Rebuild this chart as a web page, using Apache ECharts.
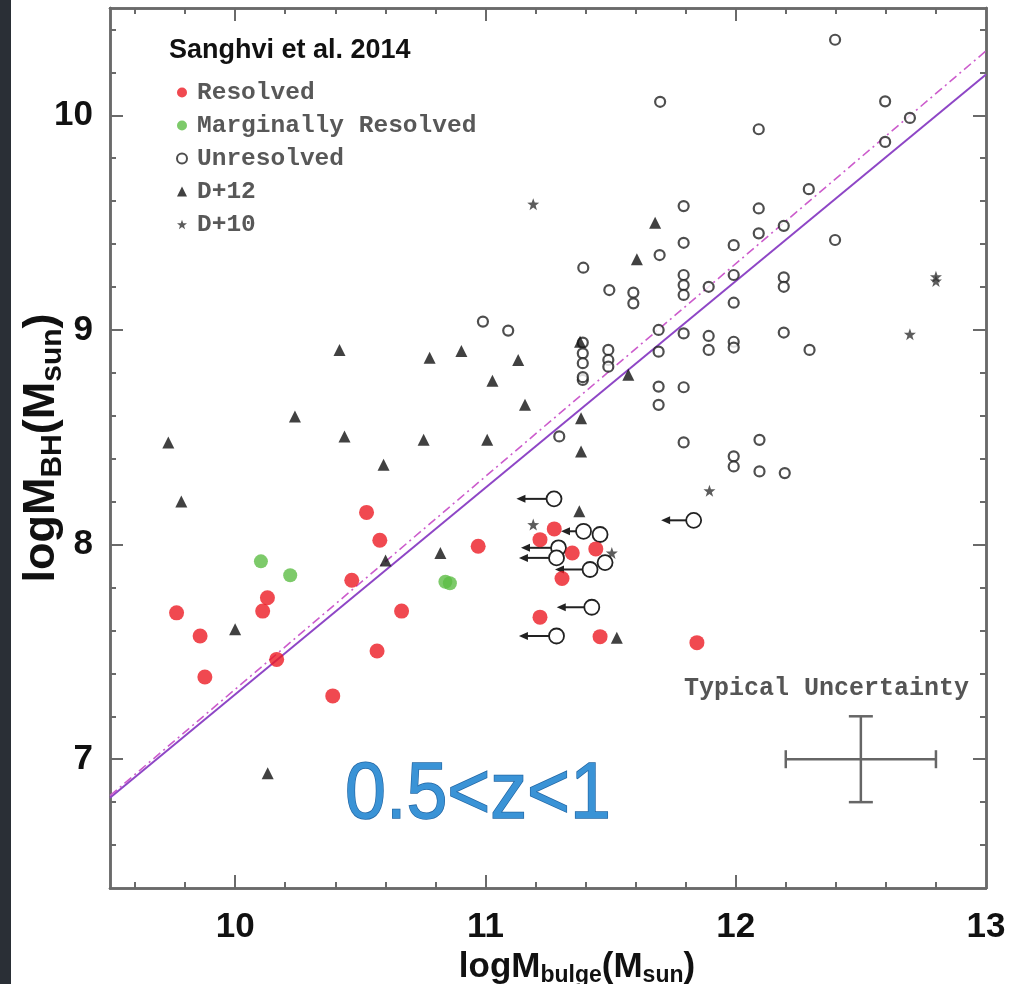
<!DOCTYPE html>
<html>
<head>
<meta charset="utf-8">
<title>Sanghvi et al. 2014</title>
<script src="https://cdn.jsdelivr.net/npm/echarts@6/dist/echarts.min.js"></script>
<style>
  html, body { margin: 0; padding: 0; background: #fff; }
  #chart { width: 1030px; height: 984px; }
</style>
</head>
<body>
<div id="chart"></div>
<script>
// values: [logMbulge, logMBH]
const resolved = [
  [10.525, 8.150], [10.578, 8.020], [10.466, 7.834], [10.129, 7.752], [10.110, 7.690],
  [9.766, 7.682], [10.665, 7.690], [9.860, 7.574], [10.166, 7.465], [10.567, 7.504],
  [9.879, 7.383], [10.390, 7.295], [10.971, 7.992], [11.275, 8.073], [11.218, 8.023],
  [11.347, 7.961], [11.441, 7.980], [11.306, 7.842], [11.218, 7.662], [11.458, 7.571],
  [11.845, 7.543]
];
const marginal = [[10.103, 7.922], [10.220, 7.857], [10.840, 7.827], [10.858, 7.820]];
const unresolved = [
  [12.397, 10.352], [12.092, 9.935], [12.597, 10.065], [12.696, 9.988], [12.597, 9.876],
  [12.292, 9.656], [12.092, 9.566], [12.192, 9.485], [12.092, 9.450], [11.992, 9.395],
  [12.397, 9.419], [11.992, 9.256], [11.892, 9.201], [12.192, 9.245], [12.192, 9.201],
  [11.992, 9.127], [11.892, 8.972], [11.892, 8.907], [11.992, 8.945], [11.992, 8.918],
  [12.192, 8.988], [12.295, 8.907], [12.095, 8.488], [11.992, 8.411], [11.992, 8.364],
  [12.095, 8.341], [12.196, 8.333], [11.792, 9.577], [11.792, 9.406], [11.696, 9.349],
  [11.391, 9.290], [11.495, 9.186], [11.591, 9.174], [11.792, 9.256], [11.792, 9.209],
  [11.698, 10.063], [11.591, 9.124], [11.792, 9.163], [10.990, 9.039], [11.091, 8.997],
  [11.389, 8.941], [11.389, 8.891], [11.389, 8.845], [11.389, 8.767], [11.389, 8.780],
  [11.491, 8.907], [11.491, 8.860], [11.491, 8.829], [11.692, 9.000], [11.792, 8.984],
  [11.692, 8.899], [11.692, 8.736], [11.692, 8.651], [11.792, 8.733], [11.792, 8.476],
  [11.295, 8.504]
];
const d12 = [
  [10.417, 8.907], [10.239, 8.597], [9.733, 8.476], [10.437, 8.504], [10.593, 8.372],
  [9.785, 8.201], [10.601, 7.926], [10.000, 7.605], [10.777, 8.871], [10.904, 8.902],
  [11.131, 8.860], [11.028, 8.763], [11.158, 8.651], [10.753, 8.488], [11.007, 8.488],
  [11.382, 8.589], [11.382, 8.434], [11.571, 8.791], [11.375, 8.155], [10.820, 7.961],
  [11.525, 7.566], [11.378, 8.945], [11.678, 9.499], [11.605, 9.329], [10.130, 6.935]
];
const d10 = [
  [11.191, 9.586], [11.895, 8.251], [12.696, 8.980], [12.800, 9.228], [12.800, 9.248],
  [11.191, 8.093], [11.505, 7.961]
];
// unresolved upper limits: [x, y, arrow length in dex]
const upperLimits = [
  [11.274, 8.213, 0.15], [11.832, 8.113, 0.13], [11.392, 8.062, 0.09], [11.292, 7.985, 0.15],
  [11.284, 7.938, 0.15], [11.418, 7.884, 0.14], [11.425, 7.708, 0.14], [11.284, 7.574, 0.15],
  [11.458, 8.047, 0], [11.478, 7.916, 0]
];
// fitted relations (end points)
const fitSolid = [[9.5, 6.82], [13.0, 10.19]];
const fitDashDot = [[9.5, 6.83], [13.0, 10.30]];
// typical uncertainty: [x, y, dx, dy]
const uncertainty = [[12.5, 7.0, 0.3, 0.2]];

// axes
const xRange = [9.5, 13];
const yRange = [6.4, 10.5];
const xLabels = [10, 11, 12, 13];
const xMajor = [10, 11, 12];
const xMinor = [9.6, 9.8, 10.2, 10.4, 10.6, 10.8, 11.2, 11.4, 11.6, 11.8, 12.2, 12.4, 12.6, 12.8];
const yLabels = [7, 8, 9, 10];
const yMajor = [7, 8, 9, 10];
const yMinor = [6.6, 6.8, 7.2, 7.4, 7.6, 7.8, 8.2, 8.4, 8.6, 8.8, 9.2, 9.4, 9.6, 9.8, 10.2, 10.4];

const frameColor = '#6a6a6a';
const starPath = 'path://M0,-10L2.4,-3.3L9.5,-3.1L3.8,1.2L5.9,8.1L0,4L-5.9,8.1L-3.8,1.2L-9.5,-3.1L-2.4,-3.3Z';

function nameStyle(size, sub, pad) {
  return {
    color: '#111', fontSize: size, fontWeight: 'bold', fontFamily: 'Liberation Sans', padding: pad,
    rich: { s: { fontSize: sub, fontWeight: 'bold', fontFamily: 'Liberation Sans', color: '#111',
                 verticalAlign: 'bottom', padding: [Math.round(sub * 0.75), 0, 0, 0] } }
  };
}
const labelStyle = { color: '#111', fontSize: 35, fontWeight: 'bold', fontFamily: 'Liberation Sans' };

// one axis layer: ticks only, or ticks + labels
function xLayer(pos, ticks, len, labels, withName) {
  return {
    type: 'value', position: pos, min: xRange[0], max: xRange[1],
    splitLine: { show: false },
    axisLine: { show: true, onZero: false, lineStyle: { color: frameColor, width: 2.5 } },
    axisTick: { show: true, inside: true, length: len, customValues: ticks,
                lineStyle: { color: frameColor, width: 2 } },
    axisLabel: labels ? Object.assign({ show: true, customValues: labels, margin: 22 }, labelStyle)
                      : { show: false },
    name: withName ? 'logM{s|bulge}(M{s|sun})' : '',
    nameLocation: 'middle', nameGap: 58, nameTextStyle: nameStyle(35, 23, [0, 0, 0, 58])
  };
}
function yLayer(pos, ticks, len, labels, withName) {
  return {
    type: 'value', position: pos, min: yRange[0], max: yRange[1],
    splitLine: { show: false },
    axisLine: { show: true, onZero: false, lineStyle: { color: frameColor, width: 2.5 } },
    axisTick: { show: true, inside: true, length: len, customValues: ticks,
                lineStyle: { color: frameColor, width: 2 } },
    axisLabel: labels ? Object.assign({ show: true, customValues: labels, margin: 17 }, labelStyle)
                      : { show: false },
    name: withName ? 'logM{s|BH}(M{s|sun})' : '',
    nameLocation: 'middle', nameGap: 42, nameRotate: 90, nameMoveOverlap: false,
    nameTextStyle: nameStyle(45, 30, 0)
  };
}

function renderLimit(params, api) {
  const x = api.value(0), y = api.value(1), len = api.value(2);
  const c = api.coord([x, y]);
  const r = 7.5;
  const kids = [];
  if (len > 0) {
    const tail = api.coord([x - len, y]);
    kids.push({ type: 'line', shape: { x1: c[0] - r, y1: c[1], x2: tail[0] + 5, y2: c[1] },
                style: { stroke: '#222', lineWidth: 2 } });
    kids.push({ type: 'polygon',
                shape: { points: [[tail[0], c[1]], [tail[0] + 9, c[1] - 4], [tail[0] + 9, c[1] + 4]] },
                style: { fill: '#222' } });
  }
  kids.push({ type: 'circle', shape: { cx: c[0], cy: c[1], r: r },
              style: { fill: '#fff', stroke: '#222', lineWidth: 1.8 } });
  return { type: 'group', children: kids };
}

function renderCross(params, api) {
  const x = api.value(0), y = api.value(1), dx = api.value(2), dy = api.value(3);
  const L = api.coord([x - dx, y]), R = api.coord([x + dx, y]);
  const T = api.coord([x, y + dy]), B = api.coord([x, y - dy]);
  const st = { stroke: '#666', lineWidth: 2.5 };
  const seg = (x1, y1, x2, y2) => ({ type: 'line', shape: { x1, y1, x2, y2 }, style: st });
  return { type: 'group', children: [
    seg(L[0], L[1], R[0], R[1]), seg(T[0], T[1], B[0], B[1]),
    seg(L[0], L[1] - 9, L[0], L[1] + 9), seg(R[0], R[1] - 9, R[0], R[1] + 9),
    seg(T[0] - 12, T[1], T[0] + 12, T[1]), seg(B[0] - 12, B[1], B[0] + 12, B[1])
  ] };
}

const chart = echarts.init(document.getElementById('chart'), null, { renderer: 'canvas' });
chart.setOption({
  backgroundColor: '#fff',
  animation: false,
  grid: { left: 110, right: 44, top: 8, bottom: 96, outerBoundsMode: 'none', containLabel: false },
  title: {
    text: 'Sanghvi et al. 2014', left: 164, top: 32,
    textStyle: { color: '#111', fontSize: 27, fontWeight: 'bold', fontFamily: 'Liberation Sans' }
  },
  legend: {
    orient: 'vertical', left: 171, top: 75, itemGap: 8,
    itemWidth: 10, itemHeight: 10,
    data: ['Resolved', 'Marginally Resolved', 'Unresolved', 'D+12', 'D+10'],
    textStyle: { color: '#585858', fontSize: 24.5, fontWeight: 'bold', fontFamily: 'Liberation Mono',
                 padding: [0, 0, 0, 5] }
  },
  xAxis: [
    xLayer('bottom', xMinor, 6, xLabels, true),
    xLayer('bottom', xMajor, 13, null, false),
    xLayer('top', xMinor, 6, null, false),
    xLayer('top', xMajor, 13, null, false)
  ],
  yAxis: [
    yLayer('left', yMinor, 6, yLabels, true),
    yLayer('left', yMajor, 13, null, false),
    yLayer('right', yMinor, 6, null, false),
    yLayer('right', yMajor, 13, null, false)
  ],
  graphic: [
    { type: 'rect', left: 0, top: 0, z: 100, shape: { width: 11, height: 984 },
      style: { fill: '#2a2f36' } },
    { type: 'text', x: 345, y: 756, scaleX: 0.92, z: 100,
      style: { text: '0.5<z<1', fontSize: 80, fontFamily: 'Liberation Sans',
               fill: '#3a93d6', stroke: '#2468a6', lineWidth: 1.5,
               textShadowColor: 'rgba(20,70,130,0.45)', textShadowOffsetX: 1.5, textShadowOffsetY: 1.5 } },
    { type: 'text', left: 684, top: 676, z: 100,
      style: { text: 'Typical Uncertainty', fontSize: 25, fontWeight: 'bold',
               fontFamily: 'Liberation Mono', fill: '#555' } }
  ],
  series: [
    { name: 'fitSolid', type: 'line', data: fitSolid, showSymbol: false, silent: true, z: 1,
      lineStyle: { color: '#8e46c6', width: 2 } },
    { name: 'fitDashDot', type: 'line', data: fitDashDot, showSymbol: false, silent: true, z: 1,
      lineStyle: { color: '#cc5ccc', width: 1.6, type: [9, 4, 2, 4] } },
    { name: 'Unresolved', type: 'scatter', data: unresolved, symbol: 'circle', symbolSize: 10, z: 3,
      itemStyle: { color: '#fff', borderColor: '#222', borderWidth: 2.2 } },
    { name: 'D+10', type: 'scatter', data: d10, symbol: starPath, symbolSize: 12, z: 3,
      itemStyle: { color: '#333' } },
    { name: 'D+12', type: 'scatter', data: d12, symbol: 'triangle', symbolSize: 12, z: 4,
      itemStyle: { color: '#111' } },
    { name: 'upperLimits', type: 'custom', data: upperLimits, renderItem: renderLimit, z: 4,
      encode: { x: 0, y: 1 } },
    { name: 'Resolved', type: 'scatter', data: resolved, symbol: 'circle', symbolSize: 15, z: 5,
      itemStyle: { color: '#ec1c24' } },
    { name: 'Marginally Resolved', type: 'scatter', data: marginal, symbol: 'circle', symbolSize: 14, z: 5,
      itemStyle: { color: '#5cbd45' } },
    { name: 'uncertainty', type: 'custom', data: uncertainty, renderItem: renderCross, z: 2,
      encode: { x: 0, y: 1 } }
  ]
});
</script>
</body>
</html>
